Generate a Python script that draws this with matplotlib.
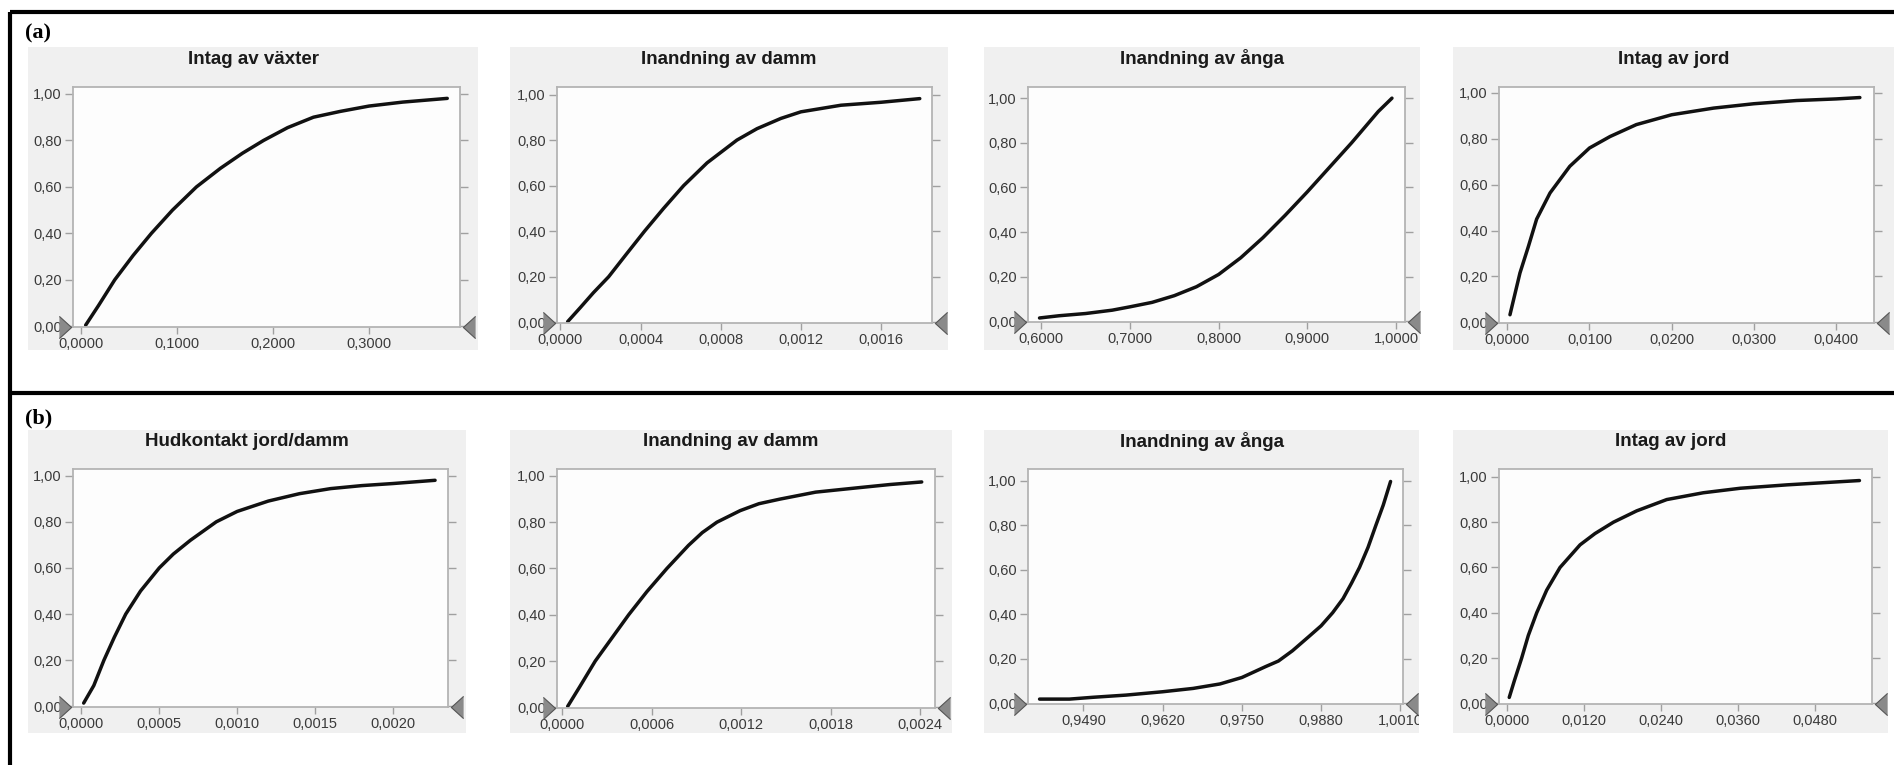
import matplotlib
matplotlib.use("Agg")
import matplotlib.pyplot as plt
from matplotlib.patches import Rectangle
from matplotlib.lines import Line2D
from matplotlib import transforms

W, H = 1894, 765

# --- cumulative distributions, row (a) ---
vaxter_x = [0.0045, 0.018, 0.0348, 0.054, 0.073, 0.095, 0.12, 0.145, 0.168, 0.19,
            0.215, 0.242, 0.27, 0.30, 0.335, 0.3815]
vaxter_p = [0.005, 0.09, 0.20, 0.305, 0.40, 0.50, 0.60, 0.68, 0.745, 0.80,
            0.855, 0.90, 0.925, 0.948, 0.965, 0.981]

damm_a_x = [0.0000366, 0.0001, 0.000165, 0.000241, 0.00033, 0.00042, 0.000515, 0.000615,
            0.000732, 0.000881, 0.000981, 0.0011, 0.0012, 0.0014, 0.0016, 0.001793]
damm_a_p = [0.003, 0.065, 0.13, 0.20, 0.30, 0.40, 0.50, 0.60,
            0.70, 0.80, 0.85, 0.895, 0.924, 0.953, 0.966, 0.982]

anga_a_x = [0.598, 0.62, 0.65, 0.68, 0.70, 0.725, 0.75, 0.775, 0.80, 0.825,
            0.85, 0.875, 0.90, 0.925, 0.95, 0.965, 0.98, 0.9955]
anga_a_p = [0.015, 0.025, 0.035, 0.05, 0.065, 0.085, 0.115, 0.155, 0.21, 0.285,
            0.375, 0.475, 0.58, 0.69, 0.80, 0.87, 0.94, 1.0]

jord_a_x = [0.000325, 0.00154, 0.00256, 0.00357, 0.0052, 0.0076, 0.01, 0.0125, 0.0157,
            0.02, 0.0251, 0.03, 0.0352, 0.04, 0.0429]
jord_a_p = [0.033, 0.215, 0.33, 0.45, 0.564, 0.68, 0.76, 0.81, 0.862,
            0.905, 0.934, 0.953, 0.967, 0.974, 0.98]

# --- cumulative distributions, row (b) ---
hud_x = [0.000015, 0.00008, 0.000145, 0.000212, 0.000285, 0.00038, 0.0005, 0.00059,
         0.0007, 0.000866, 0.001, 0.0012, 0.0014, 0.0016, 0.0018, 0.002, 0.00227]
hud_p = [0.014, 0.09, 0.20, 0.30, 0.40, 0.50, 0.60, 0.66,
         0.72, 0.80, 0.845, 0.89, 0.922, 0.944, 0.957, 0.966, 0.98]

damm_b_x = [0.000038, 0.00012, 0.000223, 0.000335, 0.000447, 0.000569, 0.000703, 0.000848,
            0.00094, 0.001038, 0.001194, 0.00132, 0.001462, 0.0017, 0.002, 0.0022, 0.002411]
damm_b_p = [0.004, 0.09, 0.20, 0.30, 0.40, 0.50, 0.60, 0.70,
            0.755, 0.80, 0.85, 0.88, 0.90, 0.93, 0.95, 0.963, 0.974]

anga_b_x = [0.9418, 0.9467, 0.9505, 0.956, 0.962, 0.967, 0.9714, 0.975, 0.9789, 0.981,
            0.9833, 0.986, 0.988, 0.9899, 0.9916, 0.993, 0.9943, 0.9957, 0.997, 0.9982, 0.9994]
anga_b_p = [0.019, 0.019, 0.027, 0.037, 0.052, 0.067, 0.087, 0.116, 0.165, 0.19,
            0.236, 0.30, 0.348, 0.407, 0.47, 0.54, 0.61, 0.70, 0.80, 0.89, 0.996]

jord_b_x = [0.0003, 0.0011, 0.00224, 0.00328, 0.00459, 0.00615, 0.00823, 0.01136, 0.0137,
            0.01657, 0.0202, 0.0249, 0.0306, 0.0364, 0.0437, 0.055]
jord_b_p = [0.026, 0.10, 0.20, 0.30, 0.40, 0.50, 0.60, 0.70, 0.75,
            0.80, 0.85, 0.90, 0.93, 0.95, 0.965, 0.984]

titles = ["Intag av växter", "Inandning av damm", "Inandning av ånga", "Intag av jord",
          "Hudkontakt jord/damm", "Inandning av damm", "Inandning av ånga", "Intag av jord"]
curves = [(vaxter_x, vaxter_p), (damm_a_x, damm_a_p), (anga_a_x, anga_a_p), (jord_a_x, jord_a_p),
          (hud_x, hud_p), (damm_b_x, damm_b_p), (anga_b_x, anga_b_p), (jord_b_x, jord_b_p)]
xticks = [[0, 0.1, 0.2, 0.3],
          [0, 0.0004, 0.0008, 0.0012, 0.0016],
          [0.6, 0.7, 0.8, 0.9, 1.0],
          [0, 0.01, 0.02, 0.03, 0.04],
          [0, 0.0005, 0.001, 0.0015, 0.002],
          [0, 0.0006, 0.0012, 0.0018, 0.0024],
          [0.949, 0.962, 0.975, 0.988, 1.001],
          [0, 0.012, 0.024, 0.036, 0.048]]
yticks = [0, 0.2, 0.4, 0.6, 0.8, 1.0]

# panel boxes in pixels: (grey x0, x1, y0, y1), (axes x0, x1, y0, y1), xlim, ymax
layout = [
    ((28, 478, 47, 350), (73, 460, 87, 327), (-0.0087, 0.3948), 1.03),
    ((510, 948, 47, 350), (557, 932, 87, 323), (-0.0000166, 0.001854), 1.033),
    ((984, 1420, 47, 350), (1028, 1405, 87, 322), (0.585, 1.0102), 1.05),
    ((1453, 1894, 47, 350), (1499, 1874, 87, 323), (-0.00101, 0.04462), 1.026),
    ((28, 466, 430, 733), (73, 448, 469, 707), (-0.0000535, 0.002353), 1.029),
    ((510, 952, 430, 733), (557, 935, 469, 708), (-0.0000335, 0.0025), 1.03),
    ((984, 1419, 430, 733), (1028, 1403, 469, 704), (0.9399, 1.00144), 1.052),
    ((1453, 1888, 430, 733), (1499, 1872, 469, 704), (-0.0013, 0.05696), 1.035),
]

plt.rcParams["font.family"] = ["Liberation Sans", "DejaVu Sans"]

fig = plt.figure(figsize=(W / 100, H / 100), dpi=100)
fig.patch.set_facecolor("white")


def fig_rect(x0, x1, y0, y1):
    return [x0 / W, 1 - y1 / H, (x1 - x0) / W, (y1 - y0) / H]


def comma(v, nd):
    return f"{v:.{nd}f}".replace(".", ",")


tri_right = [(-0.55, -1), (0.55, 0), (-0.55, 1)]
tri_left = [(0.55, -1), (-0.55, 0), (0.55, 1)]

for i, (title, (xs, ps)) in enumerate(zip(titles, curves)):
    grey, box, xlim, ymax = layout[i]
    gx0, gx1, gy0, gy1 = grey
    bg = Rectangle(fig_rect(*grey)[:2], (gx1 - gx0) / W, (gy1 - gy0) / H,
                   transform=fig.transFigure, facecolor="#f0f0f0", edgecolor="none", zorder=-2)
    fig.patches.append(bg)
    fig.text((gx0 + gx1) / 2 / W, 1 - (gy0 + 12) / H, title, ha="center", va="center",
             fontsize=13.5, fontweight="bold", color="#1a1a1a")

    ax = fig.add_axes(fig_rect(*box))
    ax.set_facecolor("#fdfdfd")
    ax.plot(xs, ps, color="#111111", lw=2.5, solid_capstyle="round", solid_joinstyle="round")
    ax.set_xlim(*xlim)
    ax.set_ylim(-0.003, ymax)
    ax.set_xticks(xticks[i])
    ax.set_xticklabels([comma(v, 4) for v in xticks[i]])
    ax.set_yticks(yticks)
    ax.set_yticklabels([comma(v, 2) for v in yticks])
    ax.tick_params(axis="both", direction="out", length=5, width=1, color="#a0a0a0",
                   labelsize=10.5, labelcolor="#3a3a3a", pad=2)
    ax.tick_params(axis="y", right=True, labelright=False, length=6)
    for s in ax.spines.values():
        s.set_color("#b4b4b4")
        s.set_linewidth(1.3)
    for lab in ax.get_xticklabels():
        lab.set_clip_path(bg)

    # slider handles at both ends of the x axis
    left_tr = transforms.offset_copy(ax.transAxes, fig=fig, x=-8, y=0, units="dots")
    right_tr = transforms.offset_copy(ax.transAxes, fig=fig, x=9, y=0, units="dots")
    ax.plot([0], [0], marker=tri_right, ms=16, mfc="#8a8a8a", mec="#555555", mew=0.8,
            transform=left_tr, clip_on=False, zorder=5)
    ax.plot([1], [0], marker=tri_left, ms=16, mfc="#8a8a8a", mec="#555555", mew=0.8,
            transform=right_tr, clip_on=False, zorder=5)

# frame lines and row labels
for (x0, y0, x1, y1) in [(10, 12, W, 12), (10, 12, 10, H), (10, 393, W, 393)]:
    fig.add_artist(Line2D([x0 / W, x1 / W], [1 - y0 / H, 1 - y1 / H], color="black",
                          lw=3, transform=fig.transFigure, solid_capstyle="butt"))
fig.text(25 / W, 1 - 33 / H, "(a)", fontsize=16, fontweight="bold", va="center",
         family="Liberation Serif")
fig.text(25 / W, 1 - 418 / H, "(b)", fontsize=16, fontweight="bold", va="center",
         family="Liberation Serif")

fig.savefig("out.png", dpi=100, facecolor="white")
